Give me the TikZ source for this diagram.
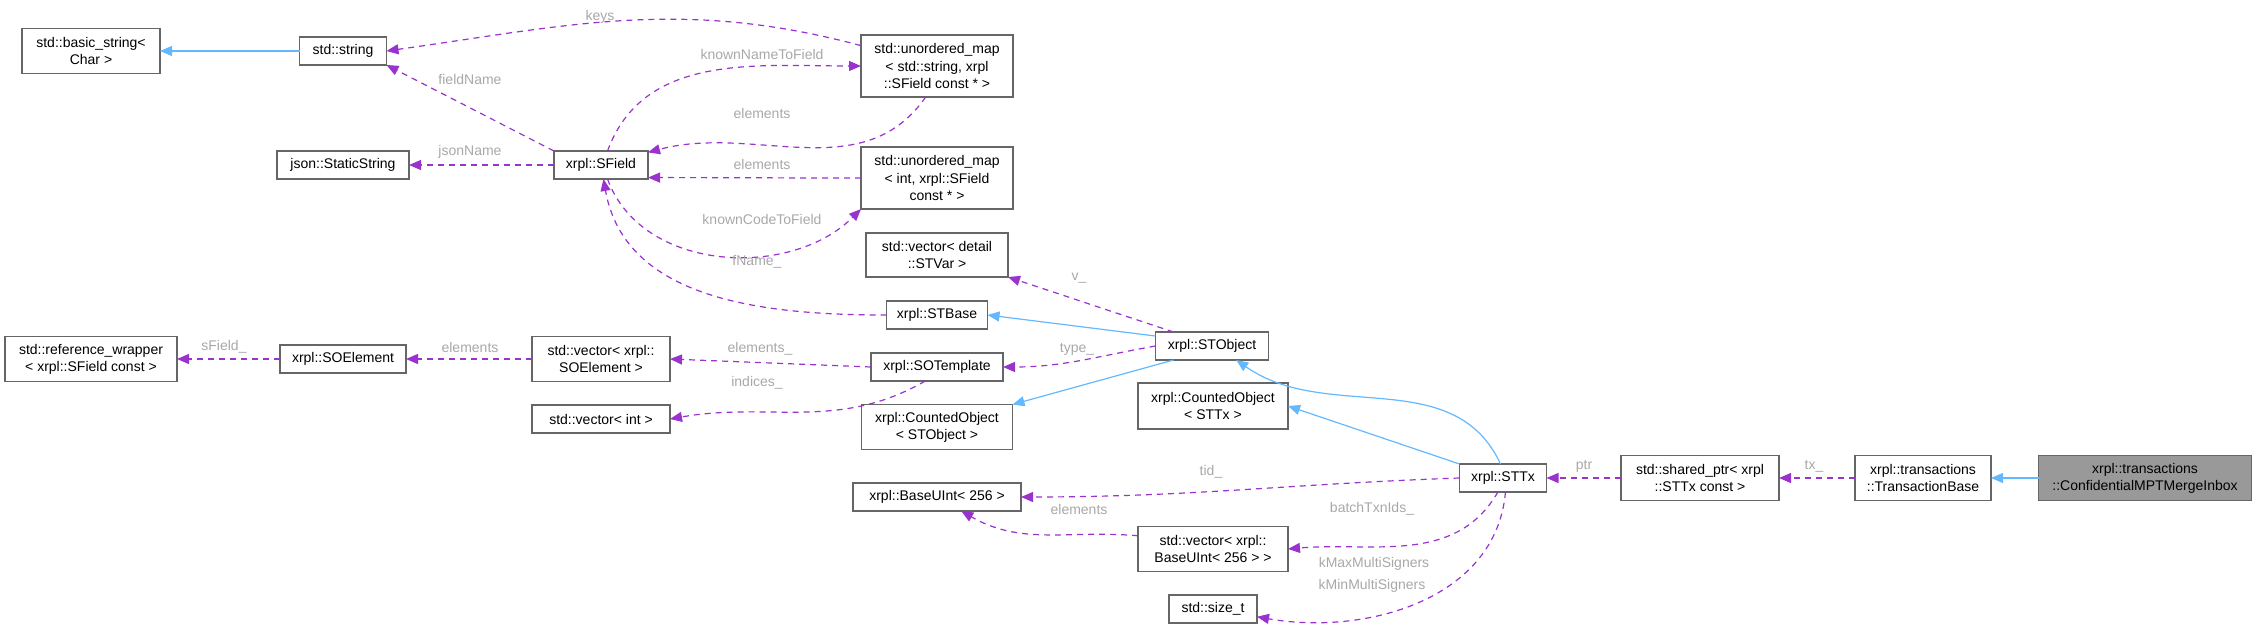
\documentclass[tikz,border=0pt]{standalone}
\usepackage{fontspec}
\setmainfont{Liberation Sans}
\usetikzlibrary{arrows.meta}
\definecolor{depcol}{HTML}{9A32CD}
\definecolor{inhcol}{HTML}{63B8FF}
\definecolor{lblgray}{HTML}{A8A8A8}
\begin{document}
\begin{tikzpicture}[x=0.5pt,y=-0.5pt]
\tikzset{ >={Triangle[length=6pt,width=5pt]}, inner sep=0pt, outer sep=0pt,
  box/.style={draw=black!60, line width=0.6pt, fill=white, align=center, font=\fontsize{7}{8.6}\selectfont, minimum height=14pt},
  dep/.style={->, draw=depcol, dash pattern=on 3pt off 2.5pt, line width=0.6pt},
  inh/.style={->, draw=inhcol, line width=0.6pt},
  lbl/.style={text=lblgray, font=\fontsize{7}{8.6}\selectfont},
}
\useasboundingbox (0,0) rectangle (2258,631);

\node [box, minimum width=69pt, minimum height=22.5pt] (bstr) at (91,51) {std::basic\_string<\\Char >};
\node [box, minimum width=43.5pt] (str) at (343,51) {std::string};
\node [box, minimum width=66pt] (json) at (343,165) {json::StaticString};
\node [box, minimum width=47pt] (sf) at (601,165) {xrpl::SField};
\node [box, minimum width=76pt, minimum height=31pt] (um1) at (937,66) {std::unordered\_map\\< std::string, xrpl\\::SField const * >};
\node [box, minimum width=76pt, minimum height=31pt] (um2) at (937,178) {std::unordered\_map\\< int, xrpl::SField\\const * >};
\node [box, minimum width=71pt, minimum height=22pt] (vdet) at (937,255) {std::vector< detail\\::STVar >};
\node [box, minimum width=50.5pt] (stb) at (937,315) {xrpl::STBase};
\node [box, minimum width=86pt, minimum height=22.5pt] (refw) at (91,359) {std::reference\_wrapper\\< xrpl::SField const >};
\node [box, minimum width=63pt] (soe) at (343,359) {xrpl::SOElement};
\node [box, minimum width=69pt, minimum height=22.5pt] (vsoe) at (601,359) {std::vector< xrpl::\\SOElement >};
\node [box, minimum width=66pt] (sot) at (937,367) {xrpl::SOTemplate};
\node [box, minimum width=69pt] (vint) at (601,419) {std::vector< int >};
\node [box, minimum width=75.5pt, minimum height=22.5pt] (cobj) at (937,427) {xrpl::CountedObject\\< STObject >};
\node [box, minimum width=84pt] (bui) at (937,497) {xrpl::BaseUInt< 256 >};
\node [box, minimum width=56.5pt] (sto) at (1212,346) {xrpl::STObject};
\node [box, minimum width=75pt, minimum height=23pt] (ctx) at (1213,406) {xrpl::CountedObject\\< STTx >};
\node [box, minimum width=75pt, minimum height=22.5pt] (vbui) at (1213,549) {std::vector< xrpl::\\BaseUInt< 256 > >};
\node [box, minimum width=44pt] (sz) at (1213,609) {std::size\_t};
\node [box, minimum width=43.5pt] (sttx) at (1503,478) {xrpl::STTx};
\node [box, minimum width=79pt, minimum height=22.5pt] (sp) at (1700,478) {std::shared\_ptr< xrpl\\::STTx const >};
\node [box, minimum width=68pt, minimum height=22.5pt] (tb) at (1923,478) {xrpl::transactions\\::TransactionBase};
\node [box, minimum width=106.5pt, minimum height=22.5pt, fill=black!40] (cmi) at (2145,478) {xrpl::transactions\\::ConfidentialMPTMergeInbox};

\draw [inh] (str) -- (bstr);
\draw [dep] (um1.165) to[out=165,in=8] (str.east);
\draw [dep] (sf.north west) -- (str.south east);
\draw [dep] (sf.65) to[out=70,in=180] (um1.west);
\draw [dep] (um1.250) to[out=235,in=15] (sf.15);
\draw [dep] (sf) -- (json);
\draw [dep] (um2.west) to[out=180,in=0] (sf.-15);
\draw [dep] (sf.-65) to[out=-70,in=225] (um2.south west);
\draw [dep] (stb.west) to[out=180,in=-80] (sf.-80);
\draw [dep] (sto.160) -- (vdet.south east);
\draw [inh] (sto.170) -- (stb.east);
\draw [dep] (sto.west) to[out=190,in=0] (sot.east);
\draw [dep] (sot.west) -- (vsoe.east);
\draw [dep] (vsoe) -- (soe);
\draw [dep] (soe) -- (refw);
\draw [dep] (sot.230) to[out=-150,in=10] (vint.east);
\draw [inh] (sto.200) -- (cobj.north east);
\draw [inh] (sttx.100) to[out=115,in=-35] (sto.-30);
\draw [inh] (sttx.north west) -- (ctx.east);
\draw [dep] (sttx.west) to[out=182,in=0] (bui.east);
\draw [dep] (vbui.170) to[out=175,in=-30] (bui.-30);
\draw [dep] (sttx.-110) to[out=-120,in=5] (vbui.east);
\draw [dep] (sttx.-80) to[out=-95,in=-10] (sz.-10);
\draw [dep] (sp) -- (sttx);
\draw [dep] (tb) -- (sp);
\draw [inh] (cmi) -- (tb);

\node [lbl] (lkeys) at (600,17) {keys};
\node [lbl] (lfield) at (470,79) {fieldName};
\node [lbl] (lkntf) at (762,54) {knownNameToField};
\node [lbl] (lel1) at (762,113) {elements};
\node [lbl] (ljson) at (470,152) {jsonName};
\node [lbl] (lel2) at (762,164) {elements};
\node [lbl] (lkctf) at (762,219) {knownCodeToField};
\node [lbl] (lfname) at (757,262) {fName\_};
\node [lbl] (lv) at (1079,278) {v\_};
\node [lbl] (lels) at (760,349) {elements\_};
\node [lbl] (lel3) at (470,347) {elements};
\node [lbl] (lsf) at (224,347) {sField\_};
\node [lbl] (lidx) at (757,383) {indices\_};
\node [lbl] (ltype) at (1077,349) {type\_};
\node [lbl] (ltid) at (1211,472) {tid\_};
\node [lbl] (lel4) at (1079,509) {elements};
\node [lbl] (lbatch) at (1372,509) {batchTxnIds\_};
\node [lbl] (lkmax) at (1374,564) {kMaxMultiSigners};
\node [lbl] (lkmin) at (1372,586) {kMinMultiSigners};
\node [lbl] (lptr) at (1584,466) {ptr};
\node [lbl] (ltx) at (1814,466) {tx\_};

\end{tikzpicture}
\end{document}
